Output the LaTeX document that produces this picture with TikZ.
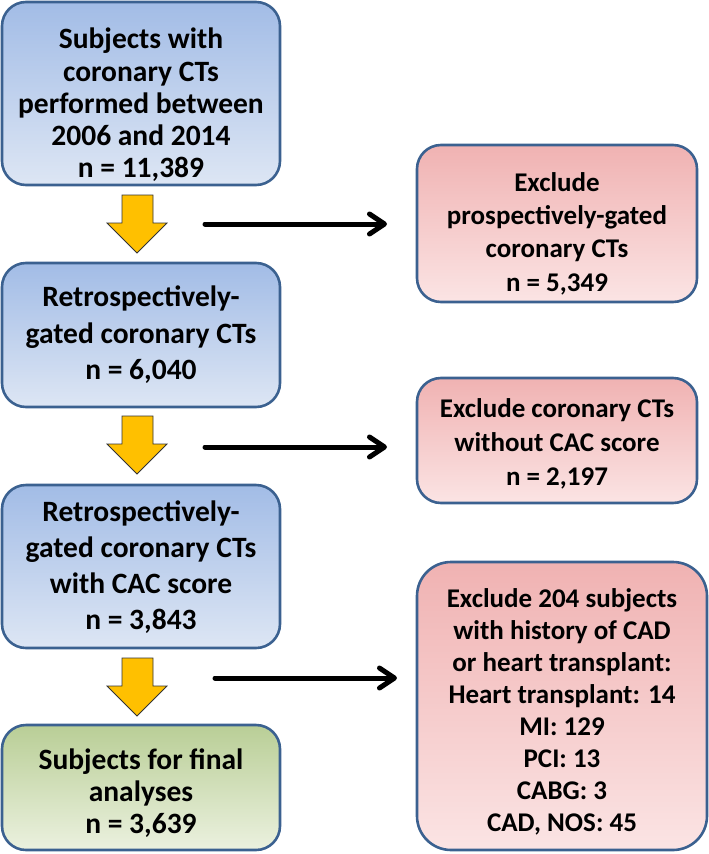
\documentclass[tikz,border=0pt]{standalone}
\usepackage{fontspec}
\setmainfont{Carlito}
\usetikzlibrary{arrows.meta}
\definecolor{bord}{HTML}{3B6190}
\definecolor{blueT}{HTML}{A2BCE6}
\definecolor{blueB}{HTML}{DDE6F4}
\definecolor{pinkT}{HTML}{F0B2B2}
\definecolor{pinkB}{HTML}{FBE4E4}
\definecolor{greenT}{HTML}{B9CE96}
\definecolor{greenB}{HTML}{EBF1DF}
\definecolor{arrowY}{HTML}{FFC000}
\begin{document}
\begin{tikzpicture}[x=1pt,y=-1pt,
  box/.style={draw=bord, line width=2.6pt, rounded corners=24pt, inner sep=0pt},
  bluebox/.style={box, top color=blueT, bottom color=blueB},
  greenbox/.style={box, top color=greenT, bottom color=greenB},
  pinkbox/.style={box, top color=pinkT, bottom color=pinkB},
  ltxt/.style={align=center, inner sep=0pt, font=\bfseries\fontsize{29.5}{#1}\selectfont},
  rtxt/.style={align=center, inner sep=0pt, font=\bfseries\fontsize{27}{#1}\selectfont},
  yarrow/.style={fill=arrowY, draw=black!80, line width=0.8pt, line join=miter},
  blk/.style={line width=5pt, line cap=round, -{Straight Barb[length=15pt,width=20pt,round]}}
]
\useasboundingbox (0,0) rectangle (709,854);
% left column
\node[bluebox, minimum width=278pt, minimum height=183pt] (b1) at (141,93.5) {};
\node[ltxt=32.2] (b1t) at ([yshift=-11.5pt]b1.center)
  {Subjects with\\coronary CTs\\performed between\\2006 and 2014\\n = 11,389};
\node[bluebox, minimum width=278pt, minimum height=144pt] (b2) at (141,335) {};
\node[ltxt=36.5] (b2t) at ([yshift=0pt]b2.center)
  {Retrospectively-\\gated coronary CTs\\n = 6,040};
\node[bluebox, minimum width=278pt, minimum height=163pt] (b3) at (141,566.5) {};
\node[ltxt=36] (b3t) at ([yshift=-1pt]b3.center)
  {Retrospectively-\\gated coronary CTs\\with CAC score\\n = 3,843};
\node[greenbox, minimum width=278pt, minimum height=125pt] (b4) at (141,787.5) {};
\node[ltxt=32] (b4t) at ([yshift=-6pt]b4.center)
  {Subjects for final\\analyses\\n = 3,639};
% right column
\node[pinkbox, minimum width=280pt, minimum height=157pt] (r1) at (557,223.5) {};
\node[rtxt=33.3] (r1t) at ([yshift=-10pt]r1.center)
  {Exclude\\prospectively-gated\\coronary CTs\\n = 5,349};
\node[pinkbox, minimum width=280pt, minimum height=125pt] (r2) at (557,440.5) {};
\node[rtxt=34] (r2t) at ([yshift=-3pt]r2.center)
  {Exclude coronary CTs\\without CAC score\\n = 2,197};
\node[pinkbox, rounded corners=34pt, minimum width=290pt, minimum height=288pt] (r3) at (562,706) {};
\node[rtxt=32] (r3t) at ([yshift=-5.5pt]r3.center)
  {Exclude 204 subjects\\with history of CAD\\or heart transplant:\\Heart transplant: 14\\MI: 129\\PCI: 13\\CABG: 3\\CAD, NOS: 45};
% yellow block arrows
\foreach \yt in {195,416,658}{
  \draw[yarrow] (122,\yt) -- (153,\yt) -- (153,\yt+28) -- (167,\yt+28) -- (137,\yt+58)
     -- (107,\yt+28) -- (122,\yt+28) -- cycle;
}
% black arrows
\coordinate (s1) at (205,224); \coordinate (e1) at (387,224);
\coordinate (s2) at (205,447); \coordinate (e2) at (387,447);
\coordinate (s3) at (215,678); \coordinate (e3) at (397,678);
\draw[blk] (s1) -- (e1);
\draw[blk] (s2) -- (e2);
\draw[blk] (s3) -- (e3);
\end{tikzpicture}
\end{document}
